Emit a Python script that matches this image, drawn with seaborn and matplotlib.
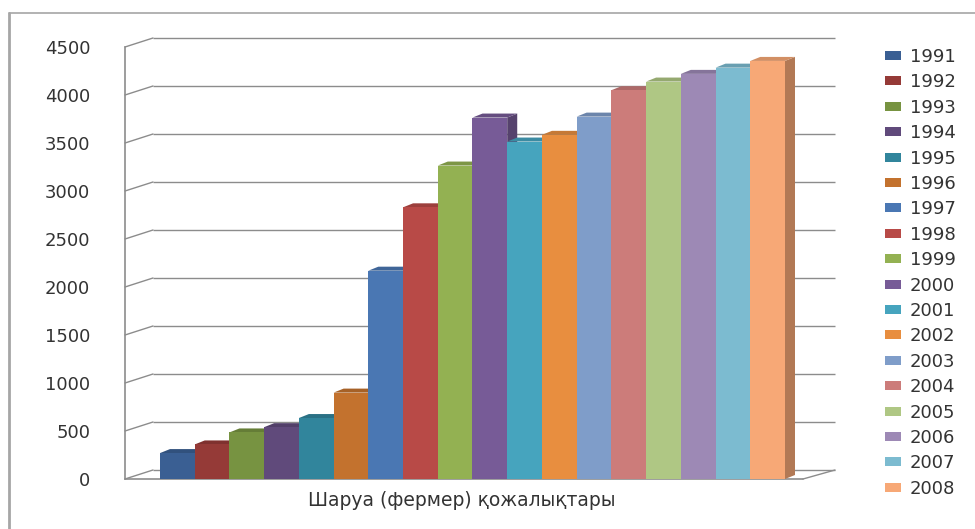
import numpy as np
import pandas as pd
import matplotlib
matplotlib.use("Agg")
import matplotlib.pyplot as plt
import matplotlib.colors as mcolors
from matplotlib.patches import Polygon, Patch, ConnectionPatch, Rectangle
from matplotlib.lines import Line2D
from matplotlib.transforms import offset_copy
import seaborn as sns

# ---- data ----
years = ["1991", "1992", "1993", "1994", "1995", "1996", "1997", "1998", "1999",
         "2000", "2001", "2002", "2003", "2004", "2005", "2006", "2007", "2008"]
values = [270, 360, 485, 540, 635, 900, 2170, 2830, 3265,
          3765, 3515, 3585, 3775, 4050, 4140, 4220, 4285, 4355]
colors = ["#3A5F93", "#953A37", "#779341", "#604A7B", "#31859C", "#C3722E",
          "#4A77B3", "#B84A47", "#93B152", "#775B97", "#46A4BE", "#E88E3F",
          "#7F9DC9", "#CC7C7A", "#AFC784", "#9D89B5", "#7CBBD0", "#F7A876"]
category_label = "Шаруа (фермер) қожалықтары"
yticks = [0, 500, 1000, 1500, 2000, 2500, 3000, 3500, 4000, 4500]

sns.set_style("white")
plt.rcParams["font.family"] = ["DejaVu Sans"]

W, H = 975, 529
fig = plt.figure(figsize=(W / 100, H / 100), dpi=100)
fig.patch.set_facecolor("white")
ax = fig.add_axes([125 / W, (H - 479) / H, (835 - 125) / W, (479 - 47) / H])
ax.set_facecolor("none")

df = pd.DataFrame({"year": years, "value": values})
sns.barplot(data=df, x="year", y="value", hue="year", palette=colors,
            width=1.0, dodge=False, legend=False, saturation=1,
            edgecolor="none", linewidth=0, ax=ax)
bars = sorted([p for p in ax.patches if isinstance(p, Rectangle) and p.get_height() > 0],
              key=lambda p: p.get_x())

x0lim, x1lim = -1.508, 18.94
ax.set_xlim(x0lim, x1lim)
ax.set_ylim(0, 4500)

pxx = (835 - 125) / (x1lim - x0lim)   # pixels per x unit
pxy = 432 / 4500                      # pixels per y unit
dx = 10 / pxx
dy = 4 / pxy

grid_c = "#8c8c8c"
back_tr = offset_copy(ax.transData, fig=fig, x=0, y=9, units="dots")
xb = -0.5 - 7 / pxx

# back-wall gridlines and perspective connectors
for v in yticks:
    ax.plot([xb, x1lim], [v, v], transform=back_tr, color=grid_c, lw=1.0,
            zorder=1, clip_on=False, solid_capstyle="butt")
    cp = ConnectionPatch(xyA=(x0lim, v), coordsA=ax.transData,
                         xyB=(xb, v), coordsB=back_tr,
                         color=grid_c, lw=1.0, zorder=1)
    ax.add_artist(cp)

# floor front edge
x_front_end = 17.5 + 18 / pxx
ax.plot([x0lim, x_front_end], [0, 0], color=grid_c, lw=1.2, zorder=1, clip_on=False)
ax.add_artist(ConnectionPatch(xyA=(x_front_end, 0), coordsA=ax.transData,
                              xyB=(x1lim, 0), coordsB=back_tr,
                              color=grid_c, lw=1.0, zorder=1))

# 3-D faces derived from the bars
for i, p in enumerate(bars):
    x0, w, h = p.get_x(), p.get_width(), p.get_height()
    base = mcolors.to_rgb(p.get_facecolor())
    side_c = tuple(c * 0.72 for c in base)
    top_c = tuple(c * 0.85 for c in base)
    z = 3 + i * 0.1
    p.set_zorder(z)
    side = Polygon([(x0 + w, 0), (x0 + w, h), (x0 + w + dx, h + dy), (x0 + w + dx, dy)],
                   closed=True, facecolor=side_c, edgecolor="none", zorder=z - 0.05)
    top = Polygon([(x0, h), (x0 + w, h), (x0 + w + dx, h + dy), (x0 + dx, h + dy)],
                  closed=True, facecolor=top_c, edgecolor="none", zorder=z - 0.04)
    ax.add_patch(side)
    ax.add_patch(top)

# axes styling
for s in ["top", "right", "bottom"]:
    ax.spines[s].set_visible(False)
ax.spines["left"].set_color(grid_c)
ax.spines["left"].set_linewidth(1.2)
ax.set_yticks(yticks)
ax.set_yticklabels([str(v) for v in yticks])
ax.tick_params(axis="y", length=7, width=1.2, color=grid_c, direction="out",
               labelsize=13, labelcolor="#333333", pad=18)
ax.set_xticks([])
ax.set_xlabel("")
ax.set_ylabel("")

fig.text(462 / W, (H - 500) / H, category_label, ha="center", va="center",
         fontsize=13.5, color="#333333")

# legend
handles = [Patch(facecolor=c, edgecolor="none") for c in colors]
leg = fig.legend(handles, years, loc="upper left",
                 bbox_to_anchor=(885 / W, (H - 48) / H), bbox_transform=fig.transFigure,
                 frameon=False, fontsize=13, handlelength=0.89, handleheight=0.39,
                 handletextpad=0.5, labelspacing=0.41, borderpad=0, borderaxespad=0)
for t in leg.get_texts():
    t.set_color("#333333")

# outer frame lines
fig.add_artist(Line2D([9 / W, 1], [(H - 13) / H, (H - 13) / H], transform=fig.transFigure,
                      color="#a6a6a6", lw=1.2))
fig.add_artist(Line2D([9 / W, 9 / W], [0, (H - 13) / H], transform=fig.transFigure,
                      color="#a6a6a6", lw=2.0))

fig.savefig("out.png", dpi=100)
